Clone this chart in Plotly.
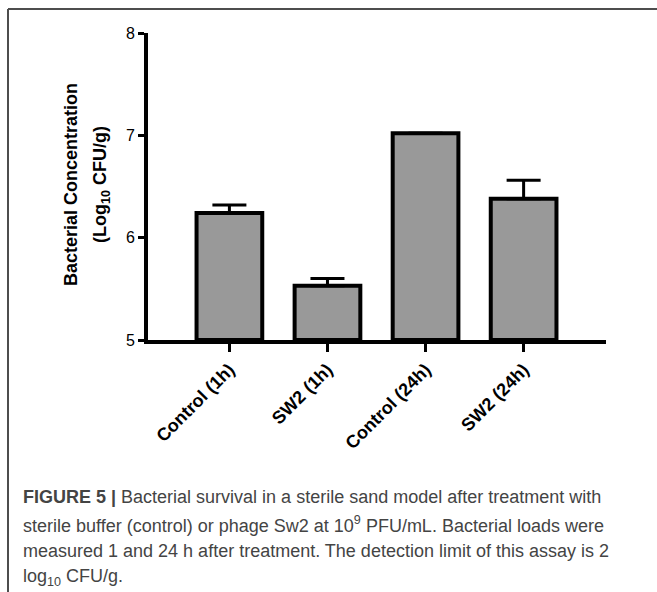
import plotly.graph_objects as go

categories = ["Control (1h)", "SW2 (1h)", "Control (24h)", "SW2 (24h)"]
means = [6.24, 5.53, 7.02, 6.38]
err_up = [0.08, 0.07, 0.0, 0.18]
y_ticks = [5, 6, 7, 8]

caption_lines = [
    "<b>FIGURE 5 |</b> Bacterial survival in a sterile sand model after treatment with",
    "sterile buffer (control) or phage Sw2 at 10<sup>9</sup> PFU/mL. Bacterial loads were",
    "measured 1 and 24 h after treatment. The detection limit of this assay is 2",
    "log<sub>10</sub> CFU/g.",
]

W, H = 657, 592
L, R, T, B = 148, 51, 33, 252
pw, ph = W - L - R, H - T - B


def px(x):
    return (x - L) / pw


def py(y):
    return (H - B - y) / ph


FONT = "Arial, Liberation Sans, sans-serif"

fig = go.Figure()
fig.add_trace(go.Bar(
    x=list(range(len(categories))),
    y=[m - 5 for m in means],
    base=5,
    width=0.67,
    marker=dict(color="#999999", line=dict(color="black", width=4)),
    error_y=dict(type="data", symmetric=False, array=err_up,
                 arrayminus=[0] * len(err_up), color="black",
                 thickness=3, width=17, visible=True),
    showlegend=False,
    hoverinfo="skip",
))

fig.update_layout(
    width=W, height=H,
    margin=dict(l=L, r=R, t=T, b=B),
    plot_bgcolor="white", paper_bgcolor="white",
    xaxis=dict(
        range=[-0.83, 3.84],
        tickmode="array",
        tickvals=list(range(len(categories))),
        ticktext=categories,
        tickangle=-45,
        tickfont=dict(family=FONT, size=18, color="black", weight="bold"),
        showline=True, linecolor="black", linewidth=4,
        ticks="outside", ticklen=8, tickwidth=3, tickcolor="black",
        showgrid=False, zeroline=False,
    ),
    yaxis=dict(
        range=[5, 8],
        tickvals=y_ticks,
        ticktext=[str(v) for v in y_ticks],
        tickfont=dict(family=FONT, size=16, color="black"),
        showline=True, linecolor="black", linewidth=4,
        ticks="outside", ticklen=6, tickwidth=3, tickcolor="black",
        showgrid=False, zeroline=False,
    ),
)

# y-axis title (two lines)
fig.add_annotation(x=px(71), y=py(185), xref="paper", yref="paper",
                   text="<b>Bacterial Concentration</b>", textangle=-90,
                   showarrow=False, xanchor="center", yanchor="middle",
                   font=dict(family=FONT, size=18, color="black"))
fig.add_annotation(x=px(101), y=py(185), xref="paper", yref="paper",
                   text="<b>(Log<sub>10</sub> CFU/g)</b>", textangle=-90,
                   showarrow=False, xanchor="center", yanchor="middle",
                   font=dict(family=FONT, size=18, color="black"))

# caption
cap_y = [497, 524, 551, 577]
for line, yy in zip(caption_lines, cap_y):
    fig.add_annotation(x=px(21), y=py(yy), xref="paper", yref="paper",
                       text=line, showarrow=False, xanchor="left", yanchor="middle",
                       align="left",
                       font=dict(family=FONT, size=18, color="#444444"))

# frame (top and left edges visible)
fig.add_shape(type="line", xref="paper", yref="paper",
              x0=px(8), x1=px(670), y0=py(9), y1=py(9),
              line=dict(color="#4d4d4d", width=2))
fig.add_shape(type="line", xref="paper", yref="paper",
              x0=px(8), x1=px(8), y0=py(9), y1=py(610),
              line=dict(color="#4d4d4d", width=2))

fig.write_html("out.html",
               config={"displayModeBar": False},
               post_script="document.body.style.margin='0px';document.body.style.overflow='hidden';")
